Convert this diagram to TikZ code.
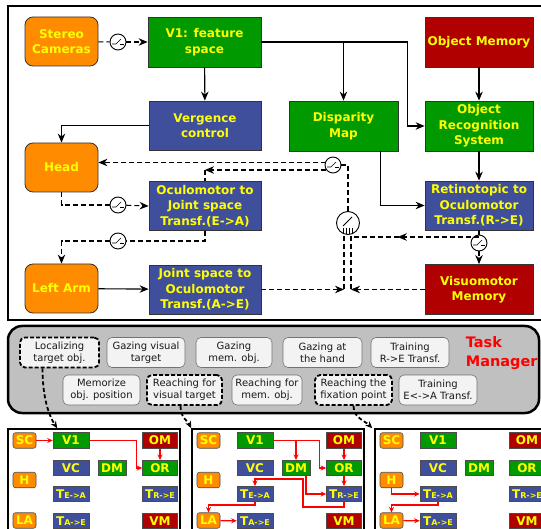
\documentclass[tikz,border=0pt]{standalone}
\usepackage{fontspec}
\setsansfont{DejaVu Sans}
\usepackage{tikz}
\usetikzlibrary{arrows.meta, decorations.markings, positioning}
\tikzset{every picture/.style={/utils/exec={\sffamily}}}

\definecolor{boxorange}{RGB}{255,140,0}
\definecolor{boxgreen}{RGB}{0,154,0}
\definecolor{boxblue}{RGB}{63,79,156}
\definecolor{boxred}{RGB}{176,0,0}
\definecolor{boxyellow}{RGB}{255,255,0}
\definecolor{tmgray}{RGB}{192,192,192}
\definecolor{taskfill}{RGB}{243,243,243}

\newcommand{\tmini}[1]{T{\fontsize{8}{8}\selectfont #1}}

\tikzset{
  blk/.style={draw=black!80, line width=0.8pt, text=boxyellow, font=\fontsize{12}{15.5}\selectfont\bfseries, align=center, inner sep=0pt},
  orbox/.style={blk, fill=boxorange, rounded corners=8pt, minimum width=73pt, minimum height=49pt},
  grbox/.style={blk, fill=boxgreen, minimum height=50pt},
  blbox/.style={blk, fill=boxblue, minimum width=112pt, minimum height=49pt},
  rdbox/.style={blk, fill=boxred, minimum width=108pt, minimum height=50pt},
  dsh/.style={dash pattern=on 5pt off 3pt},
  midarrow/.style={postaction={decorate}, decoration={markings, mark=at position #1 with {\arrow{Stealth[length=9pt, width=7.5pt]}}}},
  swsmall/.style={circle, draw, solid, fill=white, line width=0.9pt, minimum size=16pt, inner sep=0pt,
    path picture={
      \draw[line width=0.7pt] ([shift={(-6pt,-2pt)}]path picture bounding box.center) -- ++(4pt,0pt) -- ++(5pt,5pt);
      \draw[line width=0.7pt] ([shift={(2pt,-2pt)}]path picture bounding box.center) -- ++(4pt,0pt);}},
  swbig/.style={circle, draw, solid, fill=white, line width=0.9pt, minimum size=23pt, inner sep=0pt,
    path picture={
      \draw[line width=0.8pt] ([shift={(-5pt,-3pt)}]path picture bounding box.center) -- ++(9pt,9pt);
      \foreach \tx in {-4.5,-1.5,1.5,4.5}
        \draw[line width=0.6pt] ([shift={(\tx pt,-5pt)}]path picture bounding box.center) -- ++(0pt,-7pt);}},
  task/.style={draw=black!55, line width=0.6pt, fill=taskfill, rounded corners=5pt, font=\fontsize{10}{12}\selectfont, text=black!90, align=center, inner sep=1pt, minimum height=30pt},
  tdash/.style={task, draw=black, line width=1.8pt, dash pattern=on 4pt off 2pt},
  darr/.style={line width=1.8pt, dash pattern=on 4pt off 2.5pt, -{Stealth[length=7pt, width=6pt]}},
  panel/.style={draw, line width=1.5pt, minimum width=172pt, minimum height=116pt},
  mini/.style={draw=black!70, line width=0.6pt, text=boxyellow, font=\fontsize{12}{12}\selectfont\bfseries, inner sep=0pt, minimum height=15.5pt},
  mor/.style={mini, fill=boxorange, rounded corners=2.5pt, minimum width=23pt},
  mgr/.style={mini, fill=boxgreen, minimum width=36pt},
  mbl/.style={mini, fill=boxblue, minimum width=36pt},
  mrd/.style={mini, fill=boxred, minimum width=35pt},
  redarr/.style={draw=red, line width=1.2pt, -{Stealth[length=5.5pt, width=5pt]}}
}

\begin{document}
\begin{tikzpicture}[x=1pt, y=-1pt, line width=1.1pt, >={Stealth[length=9pt, width=7.5pt]}]
    \useasboundingbox (0,0) rectangle (541,529);

    % Frames
    \draw[line width=2.5pt] (8,6) rectangle (550,320);
    \draw[line width=2.5pt, fill=tmgray, rounded corners=14pt] (8,326) rectangle (539,413);

    % Nodes
    \node[orbox] (SC) at (61.5,41.5) {Stereo\\Cameras};
    \node[grbox, minimum width=113pt] (V1) at (204.5,42) {V1: feature\\space};
    \node[rdbox] (OM) at (479,42) {Object Memory};
    \node[blbox] (VC) at (205,125.5) {Vergence\\control};
    \node[grbox, minimum width=109pt] (DM) at (343.5,126) {Disparity\\Map};
    \node[grbox, minimum width=108pt] (ORS) at (479,126) {Object\\Recognition\\System};
    \node[orbox] (Head) at (61.5,167.5) {Head};
    \node[blbox] (TEA) at (205,206) {Oculomotor to\\Joint space\\Transf.(E->A)};
    \node[blbox, minimum width=108pt] (TRE) at (479,205.5) {Retinotopic to\\Oculomotor\\Transf.(R->E)};
    \node[orbox] (LA) at (61.5,288.5) {Left Arm};
    \node[blbox] (TAE) at (205,289.5) {Joint space to\\Oculomotor\\Transf.(A->E)};
    \node[rdbox] (VMM) at (479,289.5) {Visuomotor\\Memory};

    % Switches
    \node[swsmall] (s1) at (118,42) {};
    \node[swsmall] (s2) at (118,205) {};
    \node[swsmall] (s3) at (118,241) {};
    \node[swsmall] (s4) at (333,165) {};
    \node[swbig] (s5) at (348,223) {};
    \node[swsmall] (s6) at (479,243) {};

    \coordinate (inA) at (344,289.5);
    \coordinate (inV) at (351,289.5);
    \coordinate (tsplit) at (479,237);
    \coordinate (s5out) at (354,237);
    \coordinate (s4a) at (326,162.5);
    \coordinate (s4b) at (326,170);

    % Solid edges
    \draw[->] (V1) -- (VC);
    \draw[->] (V1.east) -- ++(146,0) |- (ORS.west);
    \draw[->] (DM.north |- V1.east) -- (DM);
    \draw[->] (OM) -- (ORS);
    \draw[->] (ORS) -- (TRE);
    \draw[->] ([xshift=37pt]DM.south) |- (TRE.west);
    \draw[->] (VC.west) -| (Head.north);
    \draw[->] (LA) -- (TAE);

    % Dashed edges
    \draw[dsh] (SC) -- (s1);
    \draw[dsh, ->] (s1) -- (V1);
    \draw[dsh] (Head.south) |- (s2);
    \draw[dsh, ->] (s2) -- (TEA.west);
    \draw[dsh] (TEA.south) |- (s3);
    \draw[dsh, ->] (s3) -| (LA.north);
    \draw[dsh, ->] (TAE) -- (inA);
    \draw[dsh, ->] (VMM) -- (inV);
    \draw[dsh] (inA) -- (inA |- s5.south);
    \draw[dsh] (inV) -- (inV |- s5.south);
    \draw[dsh] (TRE.south) -- (s6);
    \draw[dsh, ->] (s6) -- (VMM);
    \draw[dsh, midarrow=0.65] (tsplit) -- (s5out);
    \draw[dsh] (s5.north) |- (s4.east);
    \draw[dsh, ->] (s4a) -- (Head.east |- s4a);
    \draw[dsh, ->] (s4b) -- (TEA.north |- s4b);
    \draw[dsh] (TEA.north |- s4b) -- (TEA.north);

    % Task manager
    \node[tdash, minimum width=79pt] (loc) at (59.5,352.5) {Localizing\\target obj.};
    \node[task, minimum width=78pt] (gvt) at (146,352.5) {Gazing visual\\target};
    \node[task, minimum width=76pt] (gmo) at (234,352.5) {Gazing\\mem. obj.};
    \node[task, minimum width=79pt] (gah) at (322.5,352.5) {Gazing at\\the hand};
    \node[task, minimum width=78pt] (trt) at (410,352.5) {Training\\R->E Transf.};
    \node[anchor=west, align=left, text=red, font=\fontsize{14.5}{19}\selectfont\bfseries] (tm) at (462,353) {Task\\Manager};
    \node[task, minimum width=77pt] (mop) at (101.5,390) {Memorize\\obj. position};
    \node[tdash, minimum width=75pt] (rvt) at (184.5,390) {Reaching for\\visual target};
    \node[task, minimum width=70pt] (rmo) at (267,390) {Reaching for\\mem. obj.};
    \node[tdash, minimum width=77pt] (fix) at (353.5,390) {Reaching the\\fixation point};
    \node[task, minimum width=78pt] (tet) at (438,390) {Training\\E<->A Transf.};

    % Panels
    \foreach \p/\o in {1/0, 2/184, 3/367} {
        \node[panel] (p\p) at (94+\o,487) {};
        \node[mor] (sc\p) at (24.5+\o,440.5) {SC};
        \node[mgr] (vo\p) at (71+\o,440.5) {V1};
        \node[mrd] (om\p) at (160+\o,440.5) {OM};
        \node[mbl] (vc\p) at (71+\o,468) {VC};
        \node[mgr, minimum width=28pt] (dm\p) at (112+\o,468) {DM};
        \node[mgr, minimum width=35pt] (or\p) at (160+\o,468) {OR};
        \node[mor] (h\p) at (24.5+\o,480) {H};
        \node[mbl] (tea\p) at (71+\o,494) {\tmini{E->A}};
        \node[mbl, minimum width=35pt] (tre\p) at (160+\o,494) {\tmini{R->E}};
        \node[mor] (la\p) at (24.5+\o,520.5) {LA};
        \node[mbl] (tae\p) at (71+\o,521) {\tmini{A->E}};
        \node[mrd] (vm\p) at (160+\o,521) {VM};
    }

    % Panel 1: localizing
    \draw[redarr] (sc1) -- (vo1);
    \draw[redarr] (vo1.east) -- ++(47,0) |- (or1.west);
    \draw[redarr] (om1) -- (or1);

    % Panel 2: reaching for visual target
    \draw[redarr] (vo2.east) -- ++(46,0) |- (or2.west);
    \draw[redarr] (dm2.north |- vo2.east) -- (dm2);
    \draw[redarr] (om2) -- (or2);
    \draw[redarr] (or2) -- (tre2);
    \draw[redarr] ([xshift=10pt]dm2.south) |- (tre2.west);
    \draw[redarr] (tre2.south) -- ++(0,5) -| ++(-41,-28) -| (tea2.north);
    \draw[redarr] (tea2.south) -- ++(0,3) -| (la2.north);
    \draw[redarr] (la2) -- (tae2);

    % Panel 3: reaching the fixation point
    \draw[redarr] (h3.south) |- (tea3.west);
    \draw[redarr] (tea3.south) -- ++(0,3) -| (la3.north);
    \draw[redarr] (la3) -- (tae3);

    % Task to panel
    \draw[darr] ([xshift=-17pt]loc.south) .. controls +(0,30) and +(-8,-12) .. ([xshift=50pt]p1.north west);
    \draw[darr] ([xshift=-4pt]rvt.south) .. controls +(0,12) and +(-4,-8) .. (p2.north west);
    \draw[darr] (fix.south) .. controls +(0,12) and +(-8,-8) .. ([xshift=-2pt]p3.north west);
\end{tikzpicture}
\end{document}
